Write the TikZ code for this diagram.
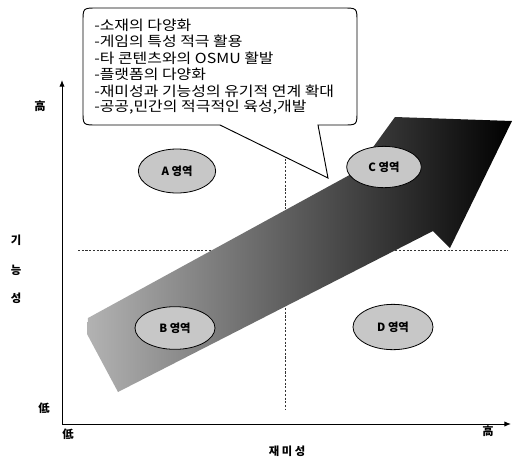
\documentclass[tikz,border=0pt]{standalone}
\usepackage{fontspec}
\newfontfamily\kr{Noto Sans CJK KR}
\newfontfamily\krw[FakeStretch=1.15]{Noto Sans CJK KR}
\usetikzlibrary{shapes.geometric,arrows.meta}
\begin{document}
\begin{tikzpicture}[x=0.75pt,y=-0.75pt,
  zone/.style={ellipse,draw=black,line width=0.6pt,fill=black!22,inner sep=0pt,font=\kr\bfseries\fontsize{8.5}{10}\selectfont},
  lbl/.style={font=\kr\bfseries\fontsize{8.5}{10}\selectfont},
  item/.style={anchor=west,inner sep=0pt,font=\krw\fontsize{10.4}{11}\selectfont},
  quad/.style={black!80,line width=0.5pt,dash pattern=on 1.6pt off 1.2pt},
  axis/.style={black,line width=0.7pt}]
\useasboundingbox (0,0) rectangle (518,469);
% quadrant lines
\coordinate (hl) at (78,250);
\coordinate (hr) at (508,250);
\coordinate (vt) at (285,125);
\coordinate (vb) at (285,410);
\draw[quad] (hl) -- (hr);
\draw[quad] (vt) -- (vb);
% big arrow
\shade[left color=black!30,right color=black]
  (88,318) -- (355,172) -- (395,117) -- (512,121) -- (450,248) -- (433,231) -- (118,392) -- (87,334) -- cycle;
% axes
\coordinate (O) at (62,424);
\coordinate (xe) at (511,424);
\coordinate (ye) at (62,80);
\draw[axis,-{Latex[length=5pt,width=4pt]}] (O) -- (xe);
\draw[axis,-{Latex[length=5pt,width=4pt]}] (O) -- (ye);
% callout
\draw[fill=white,line width=0.7pt] (220,125) -- (97,125) .. controls (83,125) .. (83,111) -- (83,22) .. controls (83,8) .. (97,8) -- (343,8) .. controls (357,8) .. (357,22) -- (357,111) .. controls (357,125) .. (343,125) -- (318,125) -- (328,178) -- cycle;
\node[item] (l1) at (94,25) {-소재의 다양화};
\node[item] (l2) at (94,41.5) {-게임의 특성 적극 활용};
\node[item] (l3) at (94,58) {-타 콘텐츠와의 OSMU 활발};
\node[item] (l4) at (94,74.5) {-플랫폼의 다양화};
\node[item] (l5) at (94,91) {-재미성과 기능성의 유기적 연계 확대};
\node[item] (l6) at (94,107.5) {-공공,민간의 적극적인 육성,개발};
% zones
\node[zone,minimum width=58pt,minimum height=33pt] (A) at (177,171) {A 영역};
\node[zone,minimum width=60pt,minimum height=32pt] (B) at (175,328) {B 영역};
\node[zone,minimum width=56pt,minimum height=31pt] (C) at (384,167) {C 영역};
\node[zone,minimum width=60pt,minimum height=34pt] (D) at (393,327) {D 영역};
% axis labels
\node[lbl] (yh) at (40,106) {高};
\node[lbl] (yl) at (44,408) {低};
\node[lbl] (xl) at (68,434) {低};
\node[lbl] (xh) at (488,431) {高};
\node[lbl] (xt) at (287,451) {재 미 성};
\node[lbl] (y1) at (16,240) {기};
\node[lbl] (y2) at (16,270) {능};
\node[lbl] (y3) at (16,298) {성};
\end{tikzpicture}
\end{document}
